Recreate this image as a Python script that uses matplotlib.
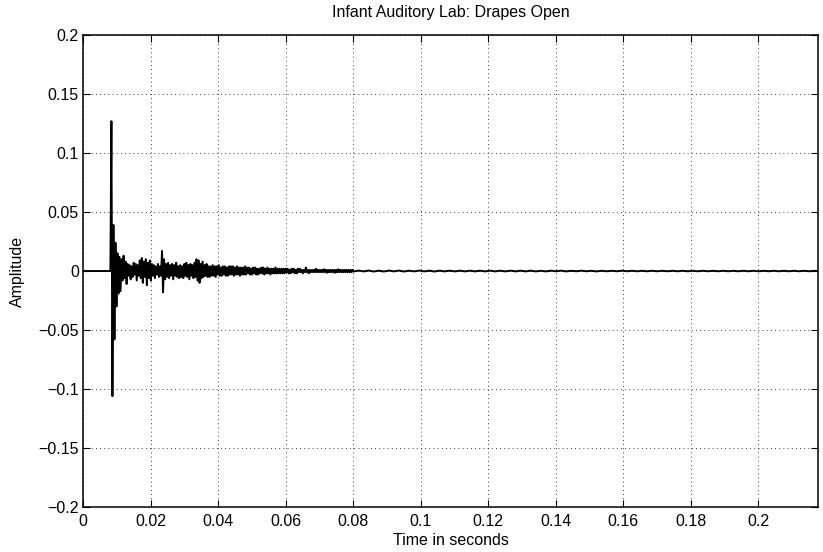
import matplotlib.pyplot as plt
import numpy as np
from matplotlib.ticker import FuncFormatter

# respuesta al impulso
t_inicio = 0.0081
paso = 0.0003
amplitud = [
    0.0, 0.127, -0.106, 0.039, -0.058, 0.024, -0.030, 0.015, -0.019, 0.012,
    -0.017, 0.010, -0.008, 0.013, -0.006, 0.008, -0.011, 0.006, -0.004, 0.005,
    -0.007, 0.004, -0.005, 0.007, -0.003, 0.006, -0.008, 0.005, -0.004, 0.009,
    -0.006, 0.011, -0.010, 0.008, -0.005, 0.010, -0.012, 0.007, -0.006, 0.009,
    -0.008, 0.006, -0.004, 0.005, -0.006, 0.004, -0.003, 0.006, -0.005, 0.004,
    -0.004, 0.017, -0.018, 0.010, -0.007, 0.006, -0.005, 0.007, -0.006, 0.005,
    -0.004, 0.006, -0.007, 0.005, -0.004, 0.007, -0.005, 0.004, -0.006, 0.005,
    -0.005, 0.004, -0.006, 0.006, -0.004, 0.007, -0.005, 0.005, -0.007, 0.006,
    -0.004, 0.005, -0.006, 0.007, -0.005, 0.010, -0.008, 0.009, -0.010, 0.006,
    -0.006, 0.008, -0.005, 0.005, -0.004, 0.006, -0.005, 0.004, -0.005, 0.004,
    -0.004, 0.005, -0.004, 0.004, -0.005, 0.004, -0.003, 0.005, -0.004, 0.003,
    -0.004, 0.004, -0.003, 0.004, -0.004, 0.003, -0.004, 0.004, -0.003, 0.004,
    -0.003, 0.004, -0.004, 0.003, -0.003, 0.004, -0.003, 0.003, -0.004, 0.003,
    -0.003, 0.003, -0.003, 0.004, -0.003, 0.003, -0.002, 0.003, -0.003, 0.002,
    -0.003, 0.003, -0.002, 0.003, -0.003, 0.002, -0.003, 0.002, -0.002, 0.003,
    -0.002, 0.003, -0.003, 0.002, -0.002, 0.003, -0.002, 0.002, -0.003, 0.002,
    -0.002, 0.002, -0.002, 0.003, -0.002, 0.002, -0.002, 0.002, -0.002, 0.002,
    -0.002, 0.002, -0.002, 0.002, -0.001, 0.002, -0.002, 0.001, -0.002, 0.002,
    -0.001, 0.002, -0.002, 0.001, -0.002, 0.002, -0.001, 0.002, -0.001, 0.001,
    -0.002, 0.001, -0.001, 0.003, -0.001, 0.001, -0.002, 0.001, -0.001, 0.001,
    -0.001, 0.001, -0.001, 0.002, -0.001, 0.001, -0.001, 0.001, -0.001, 0.001,
    -0.001, 0.0015, -0.001, 0.001, -0.0015, 0.001, -0.001, 0.001, -0.001, 0.001,
    -0.001, 0.001, -0.0015, 0.001, -0.001, 0.0015, -0.001, 0.001, -0.001, 0.001,
    -0.001, 0.001, -0.001, 0.001, -0.001, 0.001, -0.001, 0.001, -0.001, 0.001,
]

# cola casi en cero
t_cola = 0.0801
paso_cola = 0.0015
cola = [
    -0.0004, 0.0004, -0.0003, 0.0004, -0.0004, 0.0003, -0.0004, 0.0004, -0.0003, 0.0004,
    -0.0004, 0.0003, -0.0003, 0.0004, -0.0003, 0.0003, -0.0004, 0.0003, -0.0003, 0.0003,
    -0.0003, 0.0003, -0.0003, 0.0003, -0.0003, 0.0003, -0.0003, 0.0003, -0.0003, 0.0003,
    -0.0003, 0.0003, -0.0003, 0.0003, -0.0003, 0.0003, -0.0003, 0.0002, -0.0003, 0.0003,
    -0.0002, 0.0003, -0.0003, 0.0002, -0.0002, 0.0003, -0.0002, 0.0002, -0.0003, 0.0002,
    -0.0002, 0.0002, -0.0002, 0.0003, -0.0002, 0.0002, -0.0002, 0.0002, -0.0002, 0.0002,
    -0.0002, 0.0002, -0.0002, 0.0002, -0.0002, 0.0002, -0.0002, 0.0002, -0.0002, 0.0002,
    -0.0002, 0.0002, -0.0002, 0.0002, -0.0002, 0.0002, -0.0002, 0.0002, -0.0002, 0.0002,
    -0.0002, 0.0002, -0.0002, 0.0002, -0.0002, 0.0002, -0.0002, 0.0002, -0.0002, 0.0002,
    -0.0002, 0.0002, -0.0002,
]

t_final = 0.2177

t = np.concatenate([[0.0],
                    t_inicio + paso * np.arange(len(amplitud)),
                    t_cola + paso_cola * np.arange(len(cola))])
y = np.concatenate([[0.0], amplitud, cola])

plt.rcParams['font.family'] = ['Liberation Sans', 'DejaVu Sans']

fig = plt.figure(figsize=(8.23, 5.52), dpi=100)
ax = fig.add_axes([0.1009, 0.0815, 0.893, 0.855])

ax.plot(t, y, color='black', linewidth=1.4)

ax.set_xlim(0, t_final)
ax.set_ylim(-0.2, 0.2)
ax.set_xticks(np.arange(0, 0.2001, 0.02))
ax.set_yticks(np.arange(-0.2, 0.2001, 0.05))
fmt = FuncFormatter(lambda v, pos: ('%g' % (round(v, 4) + 0.0)).replace('-', '\u2212'))
ax.xaxis.set_major_formatter(fmt)
ax.yaxis.set_major_formatter(fmt)

ax.grid(True, color='black', linestyle=(0, (1, 4)), linewidth=0.6)
ax.tick_params(direction='in', length=5, width=0.8, top=True, right=True,
               labelsize=11.5)
ax.tick_params(axis='x', pad=5)
ax.tick_params(axis='y', pad=3)
for s in ax.spines.values():
    s.set_linewidth(1.1)

ax.set_title("Infant Auditory Lab: Drapes Open", fontsize=11.5, pad=13)
ax.set_xlabel("Time in seconds", fontsize=11.5, labelpad=3)
ax.set_ylabel("Amplitude", fontsize=11.5, labelpad=10)

plt.savefig("out.png", dpi=100)
